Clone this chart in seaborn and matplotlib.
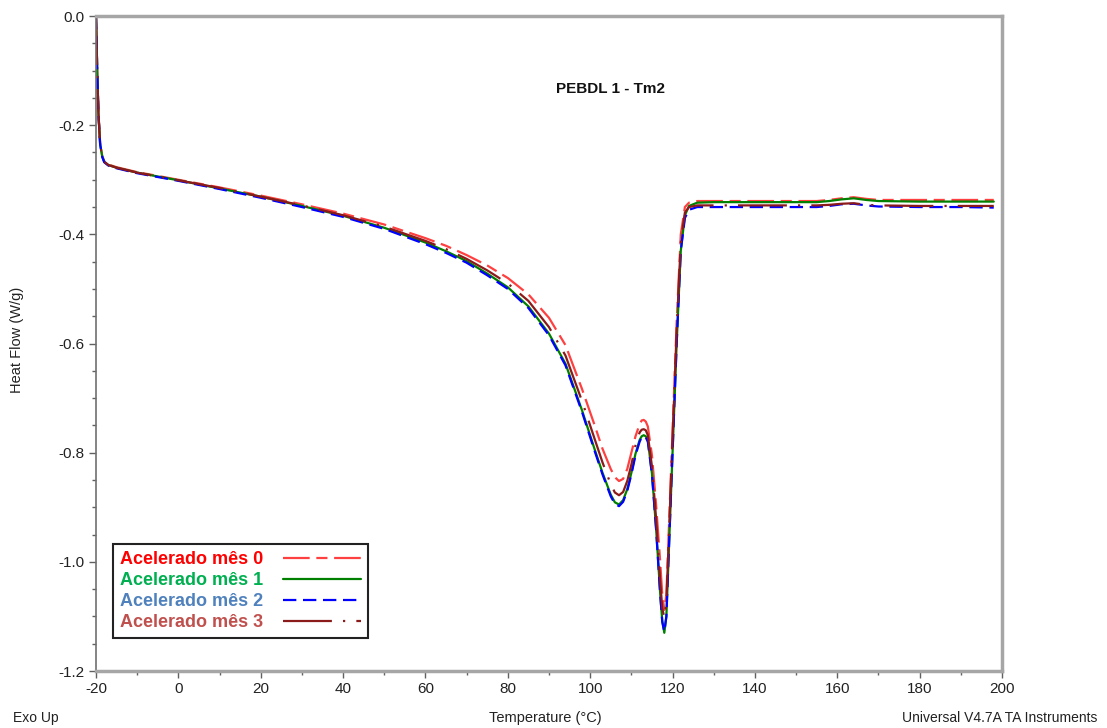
import matplotlib
matplotlib.use("Agg")
import matplotlib.pyplot as plt
import seaborn as sns
import pandas as pd
from matplotlib.ticker import MultipleLocator, FormatStrFormatter
from matplotlib.lines import Line2D

# Temperature grid (°C) shared by all runs
temperature = [-20, -19.7, -19.4, -19, -18.5, -18, -17, -15, -10, 0, 10, 20, 30, 40, 50,
               60, 65, 70, 75, 80, 85, 90, 94, 98, 101, 103, 105, 106, 107, 108, 109,
               110, 111, 112, 112.5, 113, 113.5, 114, 115, 116, 117, 117.5, 118, 118.5, 119, 120, 121,
               122, 123, 124, 126, 130, 140, 150, 155, 158, 161, 164, 167, 170, 180, 190, 198]

# Heat flow (W/g) for each ageing month
hf_mes0 = [0.0, -0.10, -0.18, -0.232, -0.256, -0.266, -0.272, -0.277, -0.286, -0.300, -0.314,
           -0.329, -0.345, -0.362, -0.382, -0.407, -0.421, -0.438, -0.457, -0.480, -0.510,
           -0.553, -0.603, -0.683, -0.748, -0.793, -0.830, -0.845, -0.852, -0.848, -0.830,
           -0.800, -0.770, -0.748, -0.741, -0.740, -0.743, -0.752, -0.805, -0.895, -1.000, -1.060, -1.088,
           -1.060, -0.960, -0.760, -0.560, -0.400, -0.350, -0.342, -0.339, -0.339, -0.339,
           -0.339, -0.339, -0.337, -0.334, -0.332, -0.335, -0.337, -0.337, -0.337, -0.337]

hf_mes1 = [0.0, -0.10, -0.18, -0.234, -0.257, -0.267, -0.273, -0.278, -0.287, -0.301, -0.316,
           -0.331, -0.348, -0.366, -0.388, -0.415, -0.431, -0.449, -0.472, -0.497, -0.532,
           -0.582, -0.637, -0.722, -0.792, -0.837, -0.877, -0.891, -0.895, -0.887, -0.867,
           -0.837, -0.802, -0.777, -0.770, -0.768, -0.770, -0.778, -0.838, -0.938, -1.058, -1.108, -1.130,
           -1.100, -1.000, -0.800, -0.600, -0.430, -0.365, -0.348, -0.342, -0.341, -0.341,
           -0.341, -0.341, -0.339, -0.336, -0.334, -0.337, -0.339, -0.340, -0.340, -0.340]

hf_mes2 = [0.0, -0.10, -0.18, -0.235, -0.258, -0.268, -0.274, -0.279, -0.288, -0.302, -0.317,
           -0.333, -0.350, -0.368, -0.390, -0.418, -0.434, -0.452, -0.475, -0.500, -0.535,
           -0.585, -0.640, -0.725, -0.795, -0.840, -0.880, -0.894, -0.898, -0.890, -0.870,
           -0.840, -0.805, -0.780, -0.772, -0.770, -0.772, -0.780, -0.840, -0.940, -1.060, -1.110, -1.128,
           -1.100, -1.000, -0.800, -0.600, -0.430, -0.370, -0.355, -0.350, -0.350, -0.350,
           -0.350, -0.350, -0.348, -0.345, -0.344, -0.347, -0.349, -0.350, -0.350, -0.351]

hf_mes3 = [0.0, -0.10, -0.18, -0.234, -0.257, -0.267, -0.273, -0.278, -0.287, -0.301, -0.315,
           -0.331, -0.347, -0.365, -0.386, -0.412, -0.427, -0.445, -0.466, -0.490, -0.522,
           -0.570, -0.622, -0.705, -0.773, -0.818, -0.858, -0.873, -0.878, -0.872, -0.852,
           -0.822, -0.787, -0.763, -0.758, -0.757, -0.759, -0.768, -0.825, -0.920, -1.035, -1.085, -1.102,
           -1.075, -0.975, -0.775, -0.575, -0.415, -0.360, -0.350, -0.347, -0.347, -0.347,
           -0.347, -0.347, -0.346, -0.344, -0.343, -0.346, -0.347, -0.348, -0.348, -0.348]

labels = ["Acelerado mês 0", "Acelerado mês 1", "Acelerado mês 2", "Acelerado mês 3"]
line_colors = ["#FF4040", "#008000", "#0000FF", "#8B1A1A"]
text_colors = ["#FF0000", "#00B050", "#4F81BD", "#C0504D"]
line_styles = [(0, (12, 3, 5, 3)), "-", (0, (6, 3)), (0, (22, 5, 1, 5))]
series = [hf_mes0, hf_mes1, hf_mes2, hf_mes3]

sns.set_theme(style="white")
narrow = ["Liberation Sans Narrow", "Liberation Sans", "DejaVu Sans"]
plt.rcParams["font.family"] = narrow
plt.rcParams["axes.unicode_minus"] = False

fig = plt.figure(figsize=(11.07, 7.28), dpi=100)
ax = fig.add_axes([96 / 1107, 1 - 671 / 728, 906 / 1107, 655 / 728])

for lab, vals, col, ls in zip(labels, series, line_colors, line_styles):
    df = pd.DataFrame({"T": temperature, "HF": vals})
    sns.lineplot(data=df, x="T", y="HF", ax=ax, color=col, linestyle=ls,
                 linewidth=1.6, sort=False, estimator=None, legend=False)

ax.set_xlim(-20, 200)
ax.set_ylim(-1.2, 0.0)
ax.xaxis.set_major_locator(MultipleLocator(20))
ax.xaxis.set_minor_locator(MultipleLocator(10))
ax.yaxis.set_major_locator(MultipleLocator(0.2))
ax.yaxis.set_minor_locator(MultipleLocator(0.05))
ax.yaxis.set_major_formatter(FormatStrFormatter("%.1f"))
ax.tick_params(axis="both", which="major", direction="out", length=5, width=1,
               color="#606060", labelsize=11, labelcolor="#222222",
               bottom=True, left=True, top=False, right=False, pad=3)
ax.tick_params(axis="both", which="minor", direction="out", length=3, width=1,
               color="#606060", bottom=True, left=True, top=False, right=False)
ax.set_xlabel("")
ax.set_ylabel("")

for side in ["top", "right", "bottom"]:
    ax.spines[side].set_color("#A6A6A6")
    ax.spines[side].set_linewidth(2.5)
ax.spines["left"].set_color("#707070")
ax.spines["left"].set_linewidth(1.2)

# Run title inside the plot
ax.text(0.568, 0.889, "PEBDL 1 - Tm2", transform=ax.transAxes, ha="center", va="center",
        fontsize=11, fontweight="bold", family=["Liberation Sans", "DejaVu Sans"], color="#111111")

# Legend with coloured labels
handles = [Line2D([0], [0], color=c, linestyle=s, linewidth=1.6) for c, s in zip(line_colors, line_styles)]
leg = ax.legend(handles, labels, loc="lower left", bbox_to_anchor=(0.0188, 0.05),
                frameon=True, fancybox=False, edgecolor="#222222", framealpha=1,
                markerfirst=False, handlelength=4.3, handletextpad=1.1,
                borderpad=0.4, labelspacing=0.22, borderaxespad=0,
                prop={"family": ["Liberation Sans", "DejaVu Sans"], "weight": "bold", "size": 13})
leg.get_frame().set_linewidth(1.5)
for txt, col in zip(leg.get_texts(), text_colors):
    txt.set_color(col)

# Axis captions
fig.text(17 / 1107, 1 - 340 / 728, "Heat Flow (W/g)", rotation=90, ha="center", va="center",
         fontsize=10.5, color="#222222")
fig.text(545 / 1107, 1 - 718 / 728, "Temperature (°C)", ha="center", va="center",
         fontsize=10.5, color="#222222")
fig.text(13 / 1107, 1 - 718 / 728, "Exo Up", ha="left", va="center",
         fontsize=10, color="#222222")
fig.text(1097 / 1107, 1 - 718 / 728, "Universal V4.7A TA Instruments", ha="right", va="center",
         fontsize=10, color="#222222")

fig.savefig("out.png", dpi=100, facecolor="white")
